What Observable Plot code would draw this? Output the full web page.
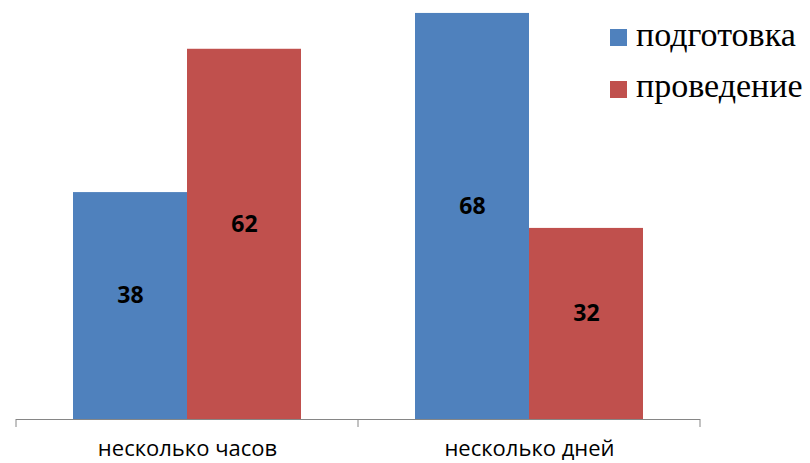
<!DOCTYPE html>
<html>
<head>
<meta charset="utf-8">
<script src="https://cdn.jsdelivr.net/npm/d3@7"></script>
<script src="https://cdn.jsdelivr.net/npm/@observablehq/plot@0.6"></script>
<style>
  html, body { margin: 0; padding: 0; background: #fff; }
  #wrap { position: relative; width: 810px; height: 463px; overflow: hidden; }
  .leg { position: absolute; font-family: "Liberation Serif", serif; font-size: 34px; line-height: 32px; color: #000; white-space: nowrap; }
  .sw { position: absolute; width: 17px; height: 17px; }
</style>
</head>
<body>
<div id="wrap"></div>
<script>
const categories = ["несколько часов", "несколько дней"];
const series = ["подготовка", "проведение"];
const colors = ["#4F81BD", "#C0504D"];
const valuesPodgotovka = [38, 68];
const valuesProvedenie = [62, 32];

const rows = [];
categories.forEach((c, i) => {
  rows.push({category: c, series: series[0], value: valuesPodgotovka[i]});
  rows.push({category: c, series: series[1], value: valuesProvedenie[i]});
});

const plot = Plot.plot({
  width: 810,
  height: 463,
  marginLeft: 16,
  marginRight: 110,
  marginTop: 1,
  marginBottom: 44,
  style: {fontFamily: "'Open Sans', sans-serif", fontSize: "22px", color: "#000", background: "transparent"},
  facet: {data: rows, x: "category"},
  fx: {domain: categories, padding: 0, label: null, tickSize: 0, tickPadding: 21},
  x: {domain: series, paddingInner: 0, paddingOuter: 0.49, axis: null},
  y: {domain: [0, 70], axis: null},
  color: {domain: series, range: colors},
  marks: [
    Plot.barY(rows, {x: "series", y: "value", fill: "series"}),
    Plot.ruleY([0], {stroke: "#868686", strokeWidth: 1}),
    Plot.text(rows, {x: "series", y: d => d.value / 2, text: d => String(d.value),
      fontSize: 23, fontWeight: "bold", fill: "#000", dy: -10})
  ]
});

// boundary tick marks on the category axis, placed with the plot's own scales
const fx = plot.scale("fx");
const y = plot.scale("y");
const y0 = y.apply(0);
const svg = d3.select(plot);
const bounds = categories.map(c => fx.apply(c));
bounds.push(fx.apply(categories[categories.length - 1]) + fx.bandwidth);
svg.append("g").selectAll("line").data(bounds).join("line")
  .attr("x1", d => d).attr("x2", d => d)
  .attr("y1", y0).attr("y2", y0 + 8)
  .attr("stroke", "#868686").attr("stroke-width", 1);

const wrap = document.getElementById("wrap");
wrap.appendChild(plot);

series.forEach((s, i) => {
  const sw = document.createElement("div");
  sw.className = "sw";
  sw.style.left = "610px";
  sw.style.top = (29 + i * 52) + "px";
  sw.style.background = colors[i];
  wrap.appendChild(sw);
  const t = document.createElement("div");
  t.className = "leg";
  t.style.left = "636px";
  t.style.top = (19 + i * 51) + "px";
  t.textContent = s;
  wrap.appendChild(t);
});
</script>
</body>
</html>
